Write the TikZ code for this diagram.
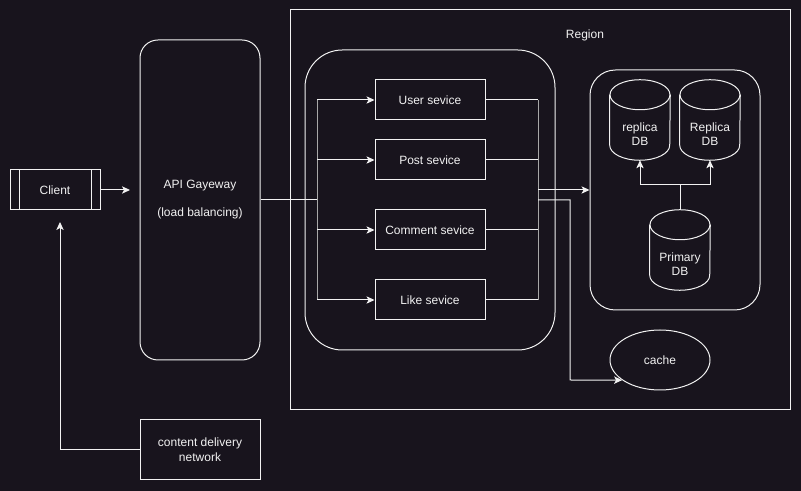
\documentclass[tikz,border=0pt]{standalone}
\usepackage{fontspec}
\setmainfont{Liberation Sans}
\usetikzlibrary{shapes.geometric, arrows.meta, positioning, calc}

\definecolor{canvas}{HTML}{18141D}
\definecolor{ink}{HTML}{F2F2F2}
\definecolor{trunkgray}{HTML}{A8A8A8}

\begin{document}
\begin{tikzpicture}[
    x=0.75pt, y=-0.75pt,
    % Node styles
    every node/.style={
        font=\fontsize{9}{11}\selectfont,
        text=ink
    },
    clientbox/.style={
        rectangle,
        draw=ink,
        line width=0.75pt,
        minimum width=67.5pt,
        minimum height=30pt
    },
    gatewaybox/.style={
        rectangle,
        rounded corners=13.5pt,
        draw=ink,
        line width=0.75pt,
        minimum width=90pt,
        minimum height=240pt,
        align=center
    },
    regionbox/.style={
        rectangle,
        draw=ink,
        line width=0.75pt,
        minimum width=375pt,
        minimum height=300pt
    },
    groupbox/.style={
        rectangle,
        draw=ink,
        line width=0.75pt
    },
    servicebox/.style={
        rectangle,
        draw=ink,
        line width=0.75pt,
        minimum width=82.5pt,
        minimum height=30pt
    },
    dbcyl/.style={
        rectangle,
        minimum width=45pt,
        minimum height=60pt
    },
    dbtext/.style={
        align=center,
        inner sep=0pt
    },
    cachebox/.style={
        ellipse,
        draw=ink,
        line width=0.75pt,
        minimum width=75pt,
        minimum height=45pt
    },
    cdnbox/.style={
        rectangle,
        draw=ink,
        line width=0.75pt,
        minimum width=90pt,
        minimum height=45pt,
        align=center
    },
    line/.style={
        draw=ink,
        line width=0.75pt
    },
    trunk/.style={
        draw=trunkgray,
        line width=0.75pt
    },
    arrow/.style={
        -{Stealth[length=6pt, width=5.5pt, inset=1.5pt]},
        draw=ink,
        line width=0.75pt
    }
]

% background
\fill[canvas] (0,0) rectangle (801,491);
\useasboundingbox (0,0) rectangle (801,491);

% === Client and gateway (Left) ===
\node[clientbox] (client) at (55,190) {Client};
\draw[line] ($(client.north west)+(10,0)$) -- ($(client.south west)+(10,0)$);
\draw[line] ($(client.north east)+(-9,0)$) -- ($(client.south east)+(-9,0)$);

\node[gatewaybox] (gateway) at (200,200) {API Gayeway\\[10pt](load balancing)};
\node[cdnbox] (cdn) at (200,450) {content delivery\\network};

% === Region ===
\node[regionbox] (region) at (540,210) {};
\node (regionlabel) at (585,35) {Region};

\node[groupbox, rounded corners=28pt, minimum width=187.5pt, minimum height=225pt] (services) at (430,200) {};
\node[servicebox] (user) at (430,100) {User sevice};
\node[servicebox] (post) at (430,160) {Post sevice};
\node[servicebox] (comment) at (430,230) {Comment sevice};
\node[servicebox] (like) at (430,300) {Like sevice};

\node[groupbox, rounded corners=19pt, minimum width=127.5pt, minimum height=180pt] (dbgroup) at (675,190) {};
\node[dbcyl] (replica1) at (640,120) {};
\node[dbcyl] (replica2) at (710,120) {};
\node[dbcyl] (primary) at (680,250) {};

% cylinder outlines
\foreach \d in {replica1, replica2, primary} {
    \draw[line] ($(\d.north west)+(0,15)$) -- ($(\d.south west)+(0,-15)$)
        arc[start angle=180, end angle=360, x radius=22.5pt, y radius=11.25pt]
        -- ($(\d.north east)+(0,15)$);
    \draw[line] ($(\d.north)+(0,15)$) ellipse[x radius=22.5pt, y radius=11.25pt];
}
\node[dbtext] (replica1text) at ($(replica1.center)+(0,14)$) {replica\\DB};
\node[dbtext] (replica2text) at ($(replica2.center)+(0,14)$) {Replica\\DB};
\node[dbtext] (primarytext) at ($(primary.center)+(0,14)$) {Primary\\DB};

\node[cachebox] (cache) at (660,360) {cache};

% === Helper points ===
\coordinate (gwin) at (130,190);
\coordinate (fanout) at (317,200);
\coordinate (merge) at (538,190);
\coordinate (cachetap) at (538,200);
\coordinate (cachebend) at (570,380);
\coordinate (split) at (680,185);
\coordinate (cdnin) at (60,222);

% === Arrows: client side ===
\draw[arrow] (client.east) -- (gwin);
\draw[arrow] (cdn.west) -| (cdnin);

% === Arrows: gateway to services ===
\draw[line] (gateway.east |- fanout) -- (fanout);
\draw[trunk] (fanout |- user.west) -- (fanout |- like.west);
\foreach \s in {user, post, comment, like}
    \draw[arrow] (fanout |- \s.west) -- (\s.west);

% === Arrows: services to data ===
\foreach \s in {user, post, comment, like}
    \draw[line] (\s.east) -- (merge |- \s.east);
\draw[trunk] (merge |- user.east) -- (merge |- like.east);
\draw[arrow] (merge) -- (dbgroup.west);
\draw[arrow] (cachetap) -| (cachebend) -- (cache.208);

% === Arrows: replication ===
\draw[line] (primary.north) -- (split);
\draw[arrow] (split) -| (replica1.south);
\draw[arrow] (split) -| (replica2.south);

\end{tikzpicture}
\end{document}
